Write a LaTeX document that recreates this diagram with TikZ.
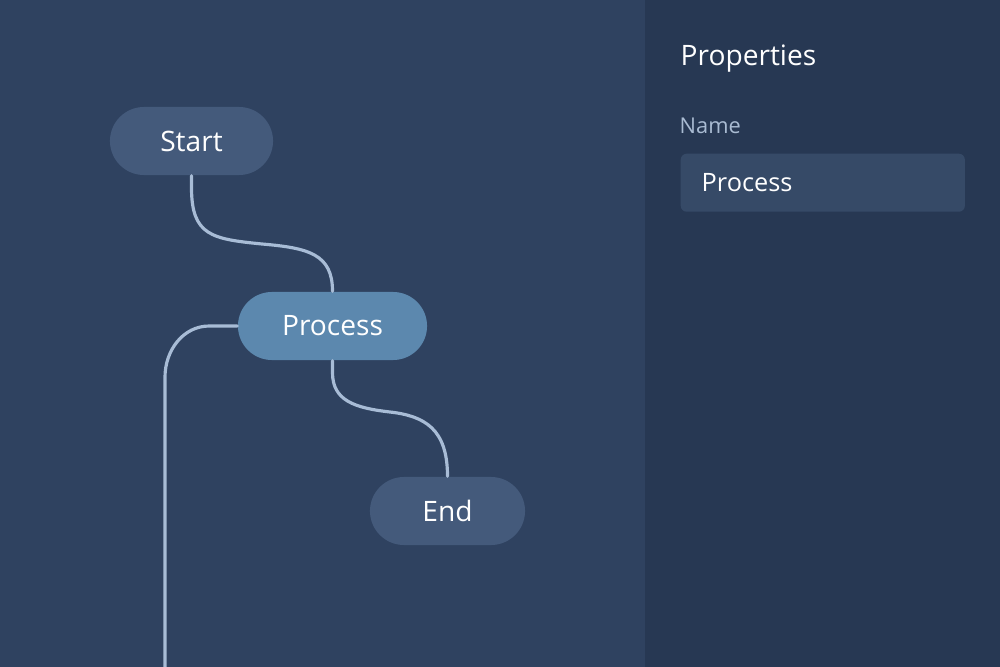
\documentclass[tikz,border=0pt]{standalone}
\usepackage{fontspec}
\setmainfont{Open Sans}
\usepackage{tikz}
\usetikzlibrary{positioning,calc}
\definecolor{canvasbg}{HTML}{2F4260}
\definecolor{panelbg}{HTML}{273853}
\definecolor{nodebg}{HTML}{445A7B}
\definecolor{activebg}{HTML}{5C88AE}
\definecolor{wirecol}{HTML}{A8BCD6}
\definecolor{fieldbg}{HTML}{364A67}
\definecolor{labelcol}{HTML}{A9BBD2}
\tikzstyle{flownode} = [rectangle, rounded corners=3.4mm,
minimum height=6.8mm, inner sep=0pt,
text=white, font=\fontsize{8}{10}\selectfont]
\tikzstyle{wire} = [wirecol, line width=0.9pt, line cap=round]

\begin{document}
\begin{tikzpicture}[x=0.01cm, y=-0.01cm]
		% ---- 1. Фон и панель свойств ----
		\useasboundingbox (0,0) rectangle (1000,667);
		\fill[canvasbg] (0,0) rectangle (645,667);
		\fill[panelbg] (645,0) rectangle (1000,667);
		
		% ---- 2. Узлы схемы ----
		\node[flownode, fill=nodebg, minimum width=16.3mm] (start) at (191.5,141) {Start};
		\node[flownode, fill=activebg, minimum width=18.9mm] (process) at (332.5,326) {Process};
		\node[flownode, fill=nodebg, minimum width=15.5mm] (finish) at (447.5,511) {End};
		\coordinate (mid1) at (262,244);
		\coordinate (mid2) at (390,412);
		\coordinate (out) at (165,667);
		
		% ---- 3. Связи ----
		\draw[wire] (start.south) -- ++(0,12)
		.. controls ($(start.south)+(0,60)$) and ($(mid1)+(-50,-5)$) .. (mid1)
		.. controls ($(mid1)+(47,4)$) and ($(process.north)+(0,-37)$) .. (process.north);
		\draw[wire] (process.south) -- ++(0,12)
		.. controls ($(process.south)+(0,40)$) and ($(mid2)+(-35,-4)$) .. (mid2)
		.. controls ($(mid2)+(35,4)$) and ($(finish.north)+(0,-47)$) .. (finish.north);
		\draw[wire] (process.west) -- ++(-28,0) to[out=180, in=90] ($(out)+(0,-290)$) -- (out);
		
		% ---- 4. Панель свойств ----
		\node[anchor=base west, inner sep=0pt, text=white, font=\fontsize{8}{10}\selectfont] (props) at (680,66) {Properties};
		\node[anchor=base west, inner sep=0pt, text=labelcol, font=\fontsize{6.2}{8}\selectfont] (namelbl) at (679,134) {Name};
		\node[anchor=north west, fill=fieldbg, rounded corners=0.6mm, minimum width=28.4mm, minimum height=5.8mm, inner sep=0pt] (field) at (680,153) {};
		\node[anchor=west, inner sep=0pt, text=white, font=\fontsize{7.2}{9}\selectfont] (fieldtxt) at ($(field.west)+(21,0)$) {Process};
		
	\end{tikzpicture}
\end{document}
